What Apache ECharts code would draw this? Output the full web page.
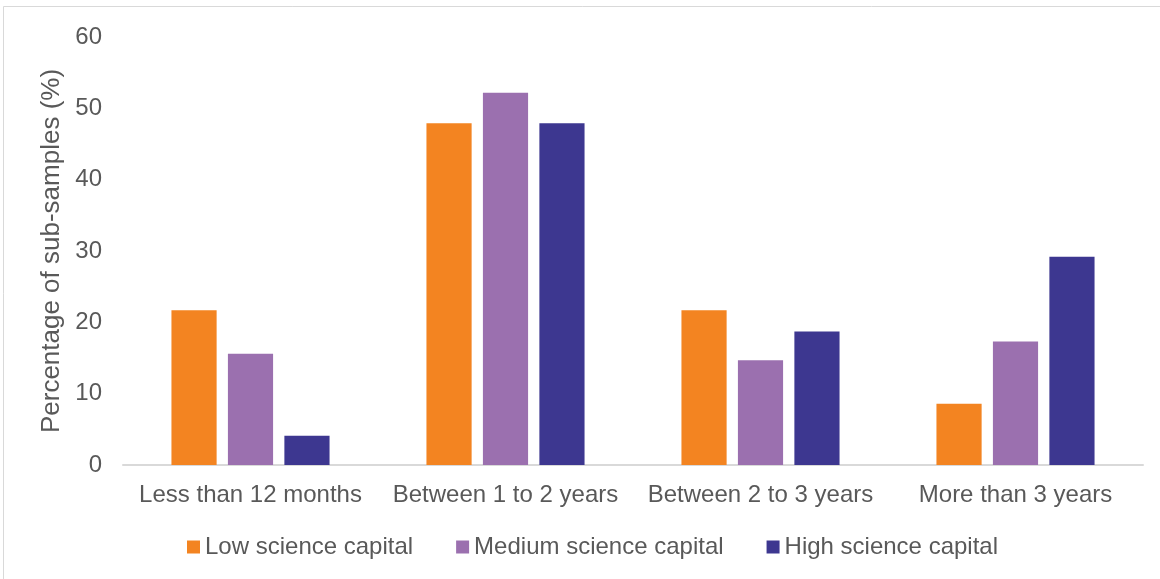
<!DOCTYPE html>
<html>
<head>
<meta charset="utf-8">
<script src="https://cdn.jsdelivr.net/npm/echarts@6/dist/echarts.min.js"></script>
<style>
  html, body { margin: 0; padding: 0; background: #ffffff; }
  #chart { width: 1160px; height: 579px; }
</style>
</head>
<body>
<div id="chart"></div>
<script>
// Time-to-outcome categories
const categories = ['Less than 12 months', 'Between 1 to 2 years', 'Between 2 to 3 years', 'More than 3 years'];

// Percentage of each sub-sample (%)
const lowScience = [21.7, 47.9, 21.7, 8.6];
const mediumScience = [15.6, 52.2, 14.7, 17.3];
const highScience = [4.1, 47.9, 18.7, 29.2];

const seriesNames = ['Low science capital', 'Medium science capital', 'High science capital'];
const yTicks = { min: 0, max: 60, interval: 10 };

const textColor = '#595959';
const fontFamily = '"Liberation Sans", Arial, sans-serif';
const fontSize = 24;

const chart = echarts.init(document.getElementById('chart'), null, { renderer: 'canvas' });

const option = {
  animation: false,
  backgroundColor: '#ffffff',
  color: ['#F38421', '#9B70AF', '#3D3790'],
  textStyle: { fontFamily: fontFamily, color: textColor },
  graphic: [{
    type: 'rect',
    shape: { x: 3.5, y: 6.5, width: 1170, height: 600 },
    style: { fill: 'none', stroke: '#d9d9d9', lineWidth: 1 },
    silent: true
  }],
  grid: { left: 123, right: 17, top: 37, bottom: 114, containLabel: false },
  legend: {
    left: 182,
    top: 530,
    itemWidth: 13,
    itemHeight: 13,
    itemGap: 43,
    icon: 'rect',
    textStyle: { color: textColor, fontSize: fontSize, fontFamily: fontFamily },
    data: seriesNames
  },
  xAxis: {
    type: 'category',
    data: categories,
    axisLine: { show: true, lineStyle: { color: '#d9d9d9', width: 2 } },
    axisTick: { show: false },
    axisLabel: { color: textColor, fontSize: fontSize, fontFamily: fontFamily, margin: 18, interval: 0 },
    splitLine: { show: false }
  },
  yAxis: {
    type: 'value',
    min: yTicks.min,
    max: yTicks.max,
    interval: yTicks.interval,
    name: 'Percentage of sub-samples (%)',
    nameLocation: 'middle',
    nameGap: 53,
    nameTextStyle: { color: textColor, fontSize: 26, fontFamily: fontFamily },
    axisLine: { show: false },
    axisTick: { show: false },
    splitLine: { show: false },
    axisLabel: { color: textColor, fontSize: fontSize, fontFamily: fontFamily, margin: 21 }
  },
  series: [
    { name: seriesNames[0], type: 'bar', data: lowScience, barGap: '25%', barCategoryGap: '38%' },
    { name: seriesNames[1], type: 'bar', data: mediumScience, barGap: '25%', barCategoryGap: '38%' },
    { name: seriesNames[2], type: 'bar', data: highScience, barGap: '25%', barCategoryGap: '38%' }
  ]
};

chart.setOption(option);
</script>
</body>
</html>
